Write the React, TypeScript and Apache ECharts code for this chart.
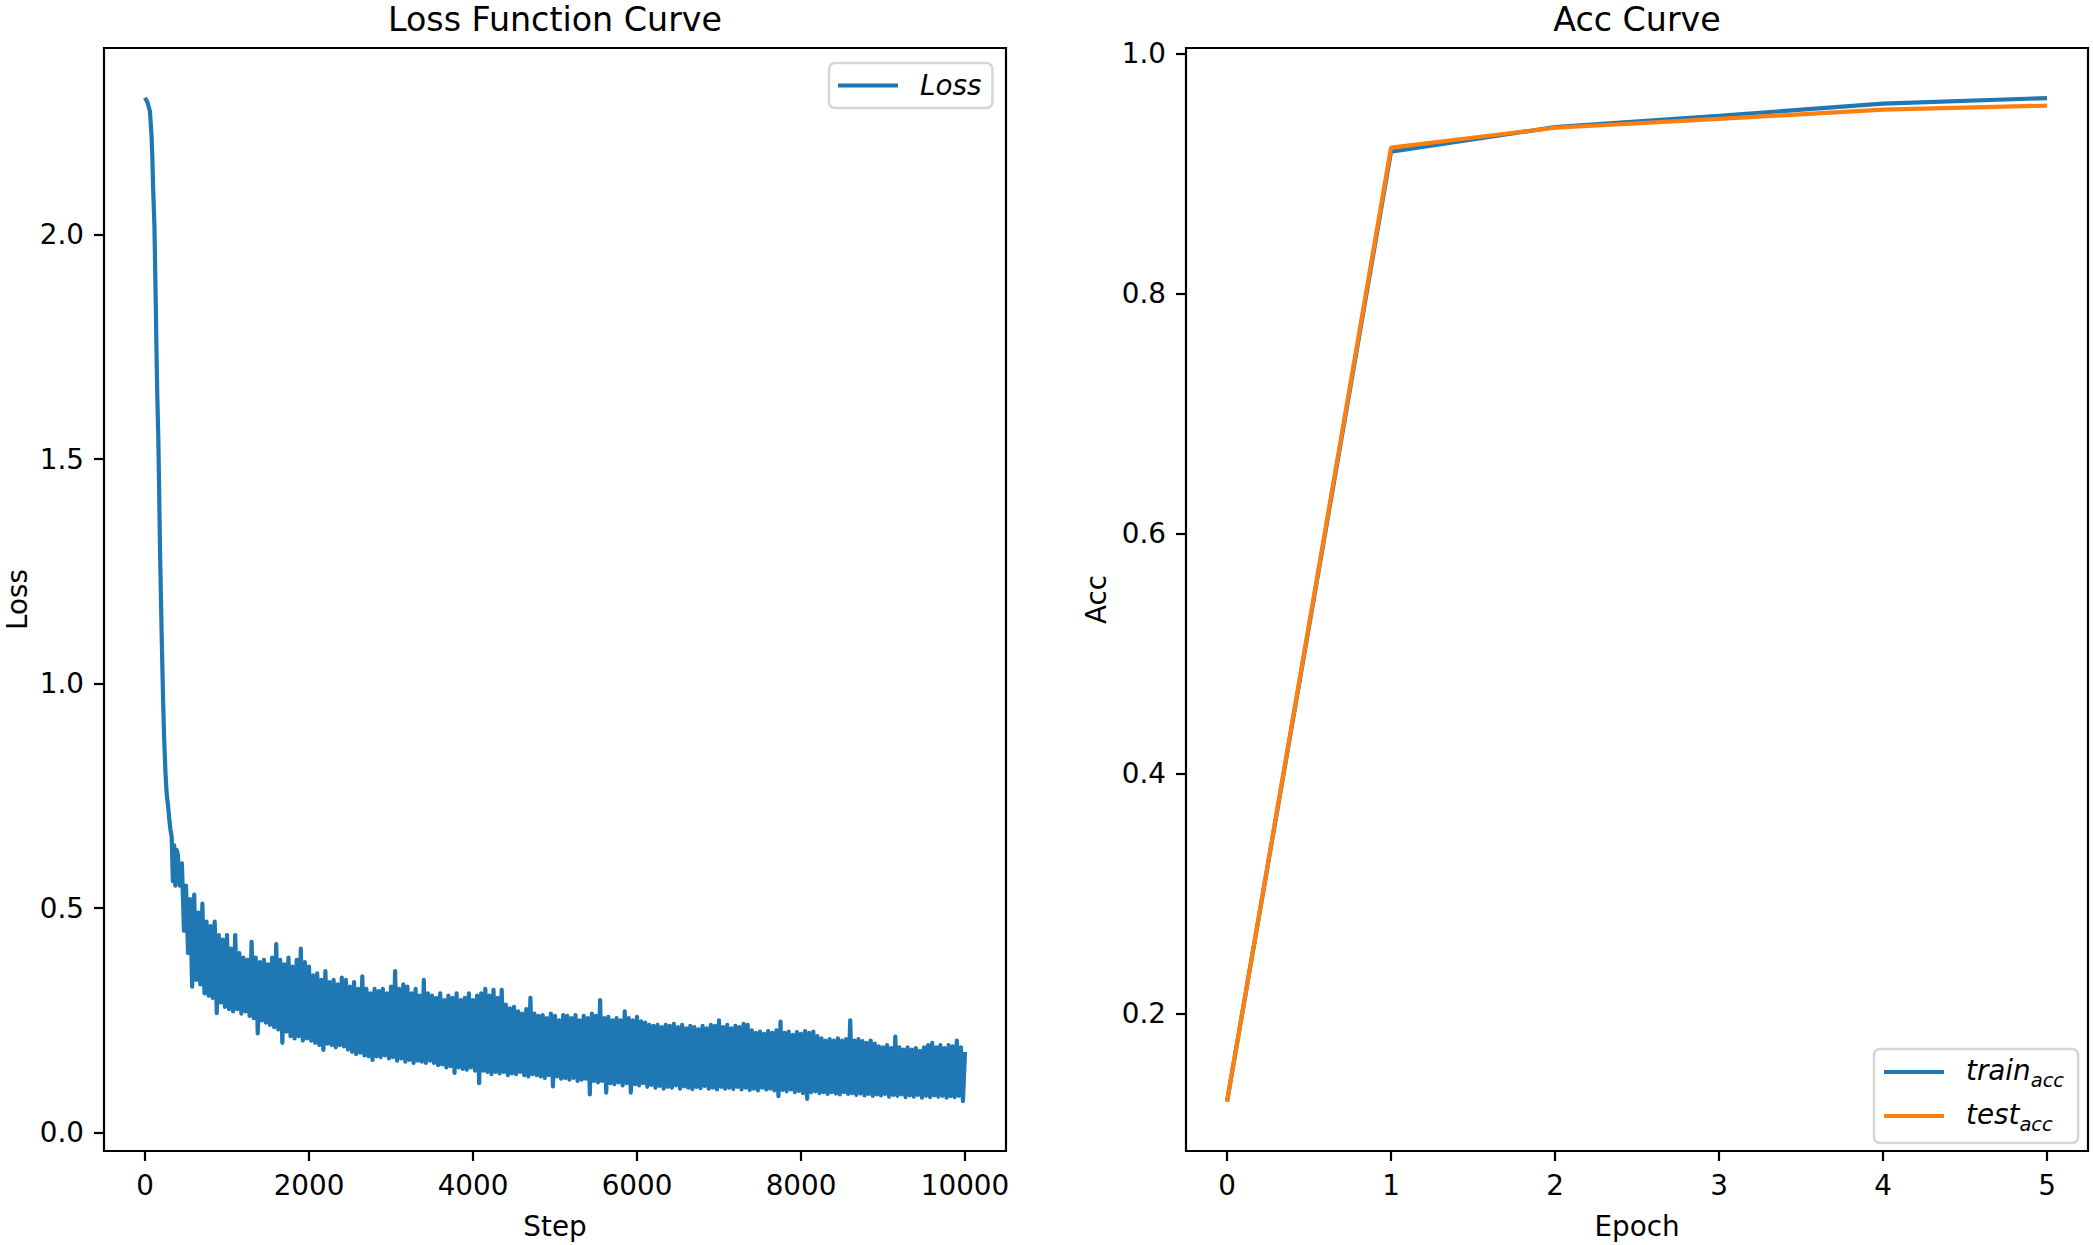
import React, { useEffect, useRef } from "react";
import * as echarts from "echarts";

const FONT = "DejaVu Sans";
const BLUE = "#1f77b4";
const ORANGE = "#ff7f0e";

// ---- Tick labels ----
const lossXTicks = [0, 2000, 4000, 6000, 8000, 10000];
const lossYTicks = [0, 0.5, 1.0, 1.5, 2.0];
const accXTicks = [0, 1, 2, 3, 4, 5];
const accYTicks = [0.2, 0.4, 0.6, 0.8, 1.0];

// ---- Accuracy curve ----
const epochs = [0, 1, 2, 3, 4, 5];
const trainAcc = [0.127, 0.918, 0.9385, 0.948, 0.958, 0.9627];
const testAcc = [0.127, 0.9214, 0.938, 0.9454, 0.953, 0.9564];

// ---- Loss curve: initial descent (step, loss) ----
const lossHeadSteps = [0, 30, 60, 80, 90, 100, 115, 130, 142, 150, 162, 171, 183, 203, 220, 232, 250, 265, 280, 295, 310, 325, 340, 355, 370, 385];
const lossHeadValues = [2.305, 2.295, 2.275, 2.22, 2.17, 2.1, 2.02, 1.86, 1.72, 1.64, 1.55, 1.45, 1.3, 1.11, 0.97, 0.885, 0.8, 0.753, 0.73, 0.7, 0.675, 0.66, 0.56, 0.64, 0.55, 0.63];

// ---- Loss curve: noisy part, read every 50 steps ----
// local highs at steps 400, 450, ..., 10000
const BAND_START = 400;
const BAND_STEP = 50;
const lossHigh = [
  0.62, 0.6, 0.55, 0.52, 0.53, 0.49, 0.51, 0.47, 0.46, 0.47,
  0.44, 0.43, 0.44, 0.41, 0.44, 0.4, 0.39, 0.385, 0.425, 0.39,
  0.38, 0.385, 0.375, 0.39, 0.42, 0.385, 0.375, 0.39, 0.37, 0.385,
  0.41, 0.38, 0.37, 0.35, 0.355, 0.34, 0.36, 0.335, 0.34, 0.33,
  0.345, 0.34, 0.325, 0.335, 0.32, 0.348, 0.32, 0.31, 0.32, 0.315,
  0.32, 0.31, 0.325, 0.36, 0.32, 0.33, 0.325, 0.31, 0.32, 0.305,
  0.34, 0.31, 0.305, 0.3, 0.31, 0.295, 0.305, 0.3, 0.31, 0.295,
  0.3, 0.31, 0.295, 0.305, 0.31, 0.32, 0.305, 0.318, 0.3, 0.318,
  0.285, 0.277, 0.28, 0.27, 0.265, 0.275, 0.3, 0.265, 0.26, 0.262,
  0.255, 0.265, 0.26, 0.25, 0.262, 0.26, 0.255, 0.262, 0.25, 0.26,
  0.255, 0.265, 0.26, 0.295, 0.255, 0.258, 0.25, 0.255, 0.25, 0.27,
  0.255, 0.25, 0.258, 0.248, 0.245, 0.24, 0.238, 0.24, 0.235, 0.24,
  0.238, 0.242, 0.235, 0.24, 0.232, 0.238, 0.235, 0.23, 0.238, 0.232,
  0.24, 0.238, 0.25, 0.235, 0.24, 0.232, 0.238, 0.235, 0.242, 0.24,
  0.228, 0.222, 0.225, 0.22, 0.226, 0.222, 0.228, 0.247, 0.222, 0.225,
  0.218, 0.224, 0.22, 0.226, 0.222, 0.225, 0.215, 0.21, 0.205, 0.208,
  0.205, 0.21, 0.205, 0.208, 0.25, 0.205, 0.208, 0.204, 0.2, 0.205,
  0.198, 0.192, 0.19, 0.195, 0.188, 0.214, 0.19, 0.185, 0.19, 0.185,
  0.188, 0.182, 0.19, 0.195, 0.2, 0.19, 0.195, 0.188, 0.195, 0.192,
  0.205, 0.19, 0.18,
];
// local lows at steps 425, 475, ..., 9975
const lossLow = [
  0.55, 0.45, 0.4, 0.325, 0.34, 0.33, 0.31, 0.305, 0.3, 0.266,
  0.29, 0.28, 0.275, 0.27, 0.275, 0.265, 0.27, 0.26, 0.255, 0.221,
  0.25, 0.245, 0.24, 0.235, 0.23, 0.2, 0.225, 0.215, 0.21, 0.215,
  0.205, 0.21, 0.205, 0.2, 0.195, 0.184, 0.198, 0.195, 0.19, 0.195,
  0.192, 0.185, 0.18, 0.175, 0.178, 0.172, 0.17, 0.162, 0.17, 0.168,
  0.172, 0.165, 0.168, 0.16, 0.165, 0.158, 0.162, 0.155, 0.16, 0.158,
  0.155, 0.16, 0.155, 0.15, 0.152, 0.145, 0.148, 0.133, 0.145, 0.142,
  0.14, 0.145, 0.138, 0.11, 0.138, 0.135, 0.13, 0.135, 0.132, 0.135,
  0.128, 0.132, 0.13, 0.135, 0.128, 0.125, 0.13, 0.128, 0.125, 0.122,
  0.128, 0.103, 0.125, 0.12, 0.122, 0.118, 0.122, 0.115, 0.118, 0.12,
  0.085, 0.115, 0.112, 0.115, 0.089, 0.11, 0.108, 0.112, 0.105, 0.11,
  0.089, 0.108, 0.105, 0.11, 0.102, 0.106, 0.1, 0.104, 0.098, 0.102,
  0.1, 0.105, 0.098, 0.103, 0.1, 0.097, 0.102, 0.099, 0.104, 0.098,
  0.1, 0.096, 0.102, 0.098, 0.1, 0.097, 0.102, 0.096, 0.1, 0.095,
  0.098, 0.094, 0.1, 0.096, 0.098, 0.094, 0.081, 0.095, 0.092, 0.096,
  0.09, 0.093, 0.088, 0.075, 0.09, 0.092, 0.088, 0.09, 0.086, 0.09,
  0.087, 0.085, 0.09, 0.086, 0.088, 0.084, 0.087, 0.083, 0.086, 0.082,
  0.085, 0.083, 0.086, 0.08, 0.084, 0.082, 0.085, 0.079, 0.083, 0.08,
  0.084, 0.078, 0.082, 0.079, 0.083, 0.08, 0.082, 0.078, 0.081, 0.079,
  0.082, 0.07,
];

function buildLossData(): [number, number][] {
  const out: [number, number][] = [];
  lossHeadSteps.forEach((s, i) => out.push([s, lossHeadValues[i]]));
  const n = Math.max(lossHigh.length, lossLow.length);
  for (let i = 0; i < n; i++) {
    if (i < lossHigh.length) out.push([BAND_START + i * BAND_STEP, lossHigh[i]]);
    if (i < lossLow.length) out.push([BAND_START + BAND_STEP / 2 + i * BAND_STEP, lossLow[i]]);
  }
  return out;
}

const TICK_FS = 27.8;
const TITLE_FS = 33.3;

function axis(min: number, max: number, ticks: number[], fmt: (v: number) => string, name: string, nameGap: number, gridIndex: number, labelPad: number[]) {
  return {
    type: "value",
    gridIndex,
    min,
    max,
    name,
    nameLocation: "middle",
    nameGap,
    nameTextStyle: { fontFamily: FONT, fontSize: TICK_FS, color: "#000" },
    axisLine: { show: false, onZero: false },
    axisTick: {
      show: true,
      length: 10,
      customValues: ticks,
      lineStyle: { color: "#000", width: 2.2 },
    },
    axisLabel: {
      show: true,
      customValues: ticks,
      formatter: fmt,
      color: "#000",
      fontFamily: FONT,
      fontSize: TICK_FS,
      margin: 20,
      padding: labelPad,
    },
    splitLine: { show: false },
  };
}

export default function App() {
  const ref = useRef<HTMLDivElement>(null);
  useEffect(() => {
    const chart = echarts.init(ref.current!, null, { renderer: "svg" });
    const legendBase = {
      orient: "vertical",
      icon: "rect",
      itemWidth: 60,
      itemHeight: 4.2,
      selectedMode: false,
      backgroundColor: "rgba(255,255,255,0.8)",
      borderColor: "#d6d6d6",
      borderWidth: 2.5,
      borderRadius: 6,
      itemStyle: { borderWidth: 0 },
    };
    const option: any = {
      animation: false,
      backgroundColor: "#ffffff",
      title: [
        {
          text: "Loss Function Curve",
          left: 555,
          top: 3,
          textAlign: "center",
          padding: 0,
          textStyle: { fontFamily: FONT, fontSize: TITLE_FS, fontWeight: "normal", color: "#000" },
        },
        {
          text: "Acc Curve",
          left: 1637,
          top: 3,
          textAlign: "center",
          padding: 0,
          textStyle: { fontFamily: FONT, fontSize: TITLE_FS, fontWeight: "normal", color: "#000" },
        },
      ],
      grid: [
        { left: 104, top: 48, width: 902, height: 1110, show: true, borderColor: "#000", borderWidth: 2.2, backgroundColor: "transparent" },
        { left: 1186, top: 48, width: 902, height: 1110, show: true, borderColor: "#000", borderWidth: 2.2, backgroundColor: "transparent" },
      ],
      xAxis: [
        axis(-500, 10500, lossXTicks, (v) => String(v), "Step", 61, 0, [0, 0, 0, 0]),
        axis(-0.25, 5.25, accXTicks, (v) => String(v), "Epoch", 61, 1, [0, 0, 0, 0]),
      ],
      yAxis: [
        axis(-0.041, 2.416, lossYTicks, (v) => v.toFixed(1), "Loss", 73, 0, [4, 0, 0, 0]),
        axis(0.0858, 1.0044, accYTicks, (v) => v.toFixed(1), "Acc", 76, 1, [4, 0, 0, 0]),
      ],
      legend: [
        {
          ...legendBase,
          data: ["Loss"],
          left: 829,
          top: 63,
          padding: [8.5, 11, 8.5, 9],
          formatter: (name: string) => `{m|${name}}`,
          textStyle: {
            rich: {
              m: { fontFamily: FONT, fontSize: TICK_FS, fontStyle: "italic", color: "#000", lineHeight: 32, padding: [0, 0, 0, 17] },
            },
          },
        },
        {
          ...legendBase,
          data: ["train_acc", "test_acc"],
          left: 1874,
          top: 1049,
          padding: [7, 14, 9, 10],
          itemGap: 10,
          formatter: (name: string) => (name === "train_acc" ? "{m|train}{s|acc}" : "{m|test}{s|acc}"),
          textStyle: {
            rich: {
              m: { fontFamily: FONT, fontSize: TICK_FS, fontStyle: "italic", color: "#000", lineHeight: 32, padding: [0, 0, 0, 17], verticalAlign: "top" },
              s: { fontFamily: FONT, fontSize: 19.5, fontStyle: "italic", color: "#000", lineHeight: 20, padding: [14, 0, 0, 0], verticalAlign: "top" },
            },
          },
        },
      ],
      series: [
        {
          name: "Loss",
          type: "line",
          xAxisIndex: 0,
          yAxisIndex: 0,
          data: buildLossData(),
          showSymbol: false,
          symbol: "none",
          color: BLUE,
          lineStyle: { color: BLUE, width: 4.2, join: "round" },
        },
        {
          name: "train_acc",
          type: "line",
          xAxisIndex: 1,
          yAxisIndex: 1,
          data: epochs.map((e, i) => [e, trainAcc[i]]),
          showSymbol: false,
          symbol: "none",
          color: BLUE,
          lineStyle: { color: BLUE, width: 4.2 },
        },
        {
          name: "test_acc",
          type: "line",
          xAxisIndex: 1,
          yAxisIndex: 1,
          data: epochs.map((e, i) => [e, testAcc[i]]),
          showSymbol: false,
          symbol: "none",
          color: ORANGE,
          lineStyle: { color: ORANGE, width: 4.2 },
        },
      ],
    };
    chart.setOption(option);
    return () => chart.dispose();
  }, []);
  return (
    <div
      ref={ref}
      style={{ position: "absolute", left: 0, top: 0, width: 2093, height: 1245, background: "#fff" }}
    />
  );
}
